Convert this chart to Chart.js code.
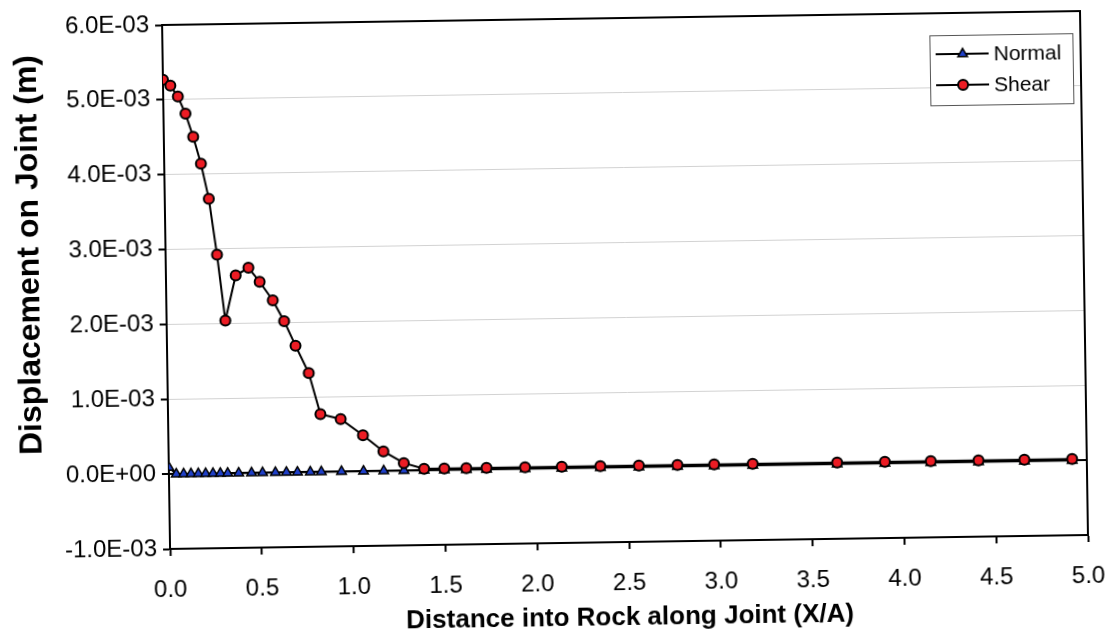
<!DOCTYPE html>
<html>
<head>
<meta charset="utf-8">
<title>Displacement on Joint</title>
<script src="https://cdn.jsdelivr.net/npm/chart.js@4.4.1/dist/chart.umd.min.js"></script>
<style>
  html, body { margin: 0; padding: 0; background: #fff; }
  #wrap { width: 1108px; height: 636px; overflow: hidden; }
  /* the printed sheet sits a little crooked */
  #plot { display: block; transform: rotate(-0.87deg); transform-origin: 625px 278px; }
</style>
</head>
<body>
<div id="wrap"><canvas id="plot" width="1108" height="636"></canvas></div>
<script>
// Distance into rock along the joint (X/A)
const distance = [0.00, 0.04, 0.08, 0.12, 0.16, 0.20, 0.24, 0.28, 0.32, 0.38,
                  0.45, 0.51, 0.58, 0.64, 0.70, 0.77, 0.83, 0.94, 1.06, 1.17,
                  1.28, 1.39, 1.50, 1.62, 1.73, 1.94, 2.14, 2.35, 2.56, 2.77,
                  2.97, 3.18, 3.64, 3.90, 4.15, 4.41, 4.66, 4.92];

// Normal displacement (m)
const normalDisp = [0.00009, 0, 0, 0, 0, 0, 0, 0, 0, 0,
                    0, 0, 0, 0, 0, 0, 0, 0, 0, 0,
                    0, 0, 0, 0, 0, 0, 0, 0, 0, 0,
                    0, 0, 0, 0, 0, 0, 0, 0];

// Shear displacement (m)
const shearDisp = [0.00527, 0.00519, 0.00504, 0.00481, 0.00450, 0.00414, 0.00367, 0.00292, 0.00204, 0.00264,
                   0.00274, 0.00255, 0.00230, 0.00202, 0.00169, 0.00132, 0.00077, 0.00070, 0.00048, 0.00026,
                   0.00010, 0.00002, 0.00002, 0.00002, 0.00002, 0.00002, 0.00002, 0.00002, 0.00002, 0.00002,
                   0.00002, 0.00002, 0.00002, 0.00002, 0.00002, 0.00002, 0.00002, 0.00002];

const xTickLabels = ['0.0', '0.5', '1.0', '1.5', '2.0', '2.5', '3.0', '3.5', '4.0', '4.5', '5.0'];
const yTickLabels = ['-1.0E-03', '0.0E+00', '1.0E-03', '2.0E-03', '3.0E-03', '4.0E-03', '5.0E-03', '6.0E-03'];
const yTitle = 'Displacement on Joint (m)';
const xTitle = 'Distance into Rock along Joint (X/A)';

const FONT = '"Liberation Sans", Arial, sans-serif';

// black frame round the plot area
const plotFrame = {
    id: 'plotFrame',
    beforeDatasetsDraw(chart) {
        const { ctx, chartArea: a } = chart;
        ctx.save();
        ctx.strokeStyle = '#000';
        ctx.lineWidth = 2;
        ctx.strokeRect(a.left, a.top, a.right - a.left, a.bottom - a.top);
        ctx.restore();
    }
};

// vertical axis title, sitting a bit above the middle of the axis
const sideTitle = {
    id: 'sideTitle',
    afterDraw(chart) {
        const { ctx, chartArea: a } = chart;
        ctx.save();
        ctx.translate(30, (a.top + a.bottom) / 2 - 34);
        ctx.rotate(-Math.PI / 2);
        ctx.fillStyle = '#000';
        ctx.font = 'bold 32px ' + FONT;
        ctx.textAlign = 'center';
        ctx.textBaseline = 'middle';
        ctx.fillText(yTitle, 0, 0);
        ctx.restore();
    }
};

// boxed legend inside the top right corner of the plot
const boxLegend = {
    id: 'boxLegend',
    afterDraw(chart) {
        const { ctx, chartArea: a } = chart;
        const left = a.right - 151;
        const top = a.top + 22;
        ctx.save();
        ctx.fillStyle = '#fff';
        ctx.fillRect(left, top, 143, 70);
        ctx.strokeStyle = '#555';
        ctx.lineWidth = 1;
        ctx.strokeRect(left + 0.5, top + 0.5, 143, 70);
        chart.data.datasets.forEach((ds, i) => {
            const y = top + 19 + i * 31;
            ctx.strokeStyle = ds.borderColor;
            ctx.lineWidth = ds.borderWidth;
            ctx.beginPath();
            ctx.moveTo(left + 6, y);
            ctx.lineTo(left + 59, y);
            ctx.stroke();
            ctx.fillStyle = ds.pointBackgroundColor;
            ctx.strokeStyle = ds.pointBorderColor;
            ctx.lineWidth = ds.pointBorderWidth;
            Chart.helpers.drawPoint(ctx, {
                pointStyle: ds.pointStyle,
                radius: ds.pointRadius,
                rotation: 0,
                borderWidth: ds.pointBorderWidth
            }, left + 33, y);
            ctx.fillStyle = '#000';
            ctx.font = '21px ' + FONT;
            ctx.textBaseline = 'middle';
            ctx.textAlign = 'left';
            ctx.fillText(ds.label, left + 64, y + 1);
        });
        ctx.restore();
    }
};

const isZero = v => Math.abs(v) < 1e-9;

new Chart(document.getElementById('plot'), {
    type: 'line',
    data: {
        datasets: [
            {
                label: 'Normal',
                data: distance.map((x, i) => ({ x: x, y: normalDisp[i] })),
                borderColor: '#000',
                borderWidth: 2,
                pointStyle: 'triangle',
                pointRadius: 5.5,
                pointBackgroundColor: '#1f3fc8',
                pointBorderColor: '#000',
                pointBorderWidth: 1.5,
                tension: 0,
                order: 2
            },
            {
                label: 'Shear',
                data: distance.map((x, i) => ({ x: x, y: shearDisp[i] })),
                borderColor: '#000',
                borderWidth: 2,
                pointStyle: 'circle',
                pointRadius: 5,
                pointBackgroundColor: '#ec1c24',
                pointBorderColor: '#000',
                pointBorderWidth: 2,
                tension: 0,
                order: 1
            }
        ]
    },
    options: {
        responsive: false,
        animation: false,
        events: [],
        layout: { padding: { top: 14, right: 24, left: 0, bottom: 0 } },
        plugins: {
            legend: { display: false },
            tooltip: { enabled: false }
        },
        scales: {
            x: {
                type: 'linear',
                min: 0,
                max: 5,
                ticks: {
                    stepSize: 0.5,
                    autoSkip: false,
                    maxRotation: 0,
                    padding: 5,
                    color: '#000',
                    font: { family: FONT, size: 24, lineHeight: 2.45 },
                    callback: (value, index) => xTickLabels[index]
                },
                grid: {
                    drawOnChartArea: false,
                    tickLength: 7,
                    tickColor: '#000',
                    tickWidth: 2
                },
                border: { color: '#000', width: 2 },
                title: {
                    display: true,
                    text: xTitle,
                    color: '#000',
                    font: { family: FONT, size: 26, weight: 'bold' },
                    padding: { top: 0, bottom: 3 }
                },
                afterFit(scale) { scale.height = 94; }
            },
            y: {
                min: -0.001,
                max: 0.006,
                ticks: {
                    stepSize: 0.001,
                    padding: 6,
                    color: '#000',
                    font: { family: FONT, size: 24, lineHeight: 1 },
                    callback: (value, index) => yTickLabels[index]
                },
                grid: {
                    color: ctx => (ctx.tick && isZero(ctx.tick.value)) ? '#000' : '#d2d2d2',
                    lineWidth: ctx => (ctx.tick && isZero(ctx.tick.value)) ? 2 : 1,
                    tickLength: 7,
                    tickColor: '#000',
                    tickWidth: 2
                },
                border: { color: '#000', width: 2 },
                afterFit(scale) { scale.width = 166; }
            }
        }
    },
    plugins: [plotFrame, sideTitle, boxLegend]
});
</script>
</body>
</html>
